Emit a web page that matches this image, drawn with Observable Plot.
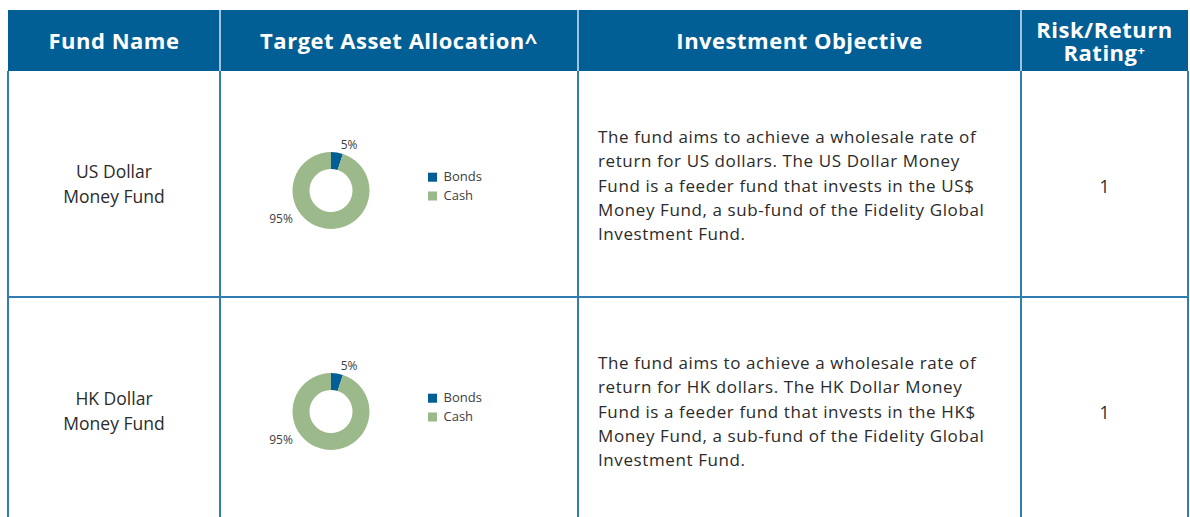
<!DOCTYPE html>
<html>
<head>
<meta charset="utf-8">
<script src="https://cdn.jsdelivr.net/npm/d3@7"></script>
<script src="https://cdn.jsdelivr.net/npm/@observablehq/plot@0.6"></script>
<style>
  html, body { margin: 0; padding: 0; background: #fff; }
  #root { position: relative; width: 1190px; height: 517px; overflow: hidden; font-family: "Open Sans", "Noto Sans", sans-serif; color: #2b2b2b; }
  .hdr { position: absolute; left: 8px; top: 10px; width: 1180px; height: 61px; background: #015f96; }
  .hcell { position: absolute; top: 10px; height: 61px; display: flex; align-items: center; justify-content: center; text-align: center; color: #fff; font-weight: 700; font-size: 22px; line-height: 23px; letter-spacing: 0.5px; }
  .hsep { position: absolute; top: 10px; width: 2px; height: 61px; background: #9fc3dc; }
  .vline { position: absolute; top: 71px; width: 2px; height: 460px; background: #2f7db3; }
  .hline { position: absolute; left: 8px; width: 1181px; height: 2px; background: #2f7db3; }
  .name { position: absolute; display: flex; align-items: center; justify-content: center; text-align: center; font-size: 17.5px; line-height: 25px; }
  .obj { position: absolute; font-size: 17px; line-height: 24.3px; letter-spacing: 0.6px; white-space: nowrap; }
  .rating { position: absolute; display: flex; align-items: center; justify-content: center; font-size: 17.5px; }
  .plotbox { position: absolute; }
</style>
</head>
<body>
<div id="root"></div>
<script>
// ---- data ----
const headers = ["Fund Name", "Target Asset Allocation^", "Investment Objective", "Risk/Return<br>Rating<sup style='font-size:13px;line-height:0;vertical-align:6px'>+</sup>"];
const fundNames = [["US Dollar", "Money Fund"], ["HK Dollar", "Money Fund"]];
const assetClasses = ["Bonds", "Cash"];
const bondsPct = [5, 5];
const cashPct = [95, 95];
const assetColors = ["#015f96", "#9cb98b"];
const objectives = [
  ["The fund aims to achieve a wholesale rate of",
   "return for US dollars. The US Dollar Money",
   "Fund is a feeder fund that invests in the US$",
   "Money Fund, a sub-fund of the Fidelity Global",
   "Investment Fund."],
  ["The fund aims to achieve a wholesale rate of",
   "return for HK dollars. The HK Dollar Money",
   "Fund is a feeder fund that invests in the HK$",
   "Money Fund, a sub-fund of the Fidelity Global",
   "Investment Fund."]
];
const ratings = [1, 1];

// ---- layout ----
const root = document.getElementById("root");
const colX = [8, 220, 578, 1021, 1188];
const headTop = 71, rowH = 226, chartStep = 221;

root.insertAdjacentHTML("beforeend", `<div class="hdr"></div>`);
headers.forEach((h, i) => {
  root.insertAdjacentHTML("beforeend",
    `<div class="hcell" style="left:${colX[i]}px;width:${colX[i+1]-colX[i]}px"><span>${h}</span></div>`);
});
[1, 2, 3].forEach(i => root.insertAdjacentHTML("beforeend", `<div class="hsep" style="left:${colX[i]-1}px"></div>`));
colX.forEach(x => root.insertAdjacentHTML("beforeend", `<div class="vline" style="left:${x - 1}px"></div>`));

fundNames.forEach((lines, r) => {
  const top = headTop + r * rowH;
  if (r > 0) root.insertAdjacentHTML("beforeend", `<div class="hline" style="top:${top - 1}px"></div>`);
  root.insertAdjacentHTML("beforeend",
    `<div class="name" style="left:${colX[0]}px;width:${colX[1]-colX[0]}px;top:${top + 4 + r}px;height:${rowH - 8}px"><span>${lines.join("<br>")}</span></div>`);
  root.insertAdjacentHTML("beforeend",
    `<div class="obj" style="left:598px;top:${top + 54}px">${objectives[r].join("<br>")}</div>`);
  root.insertAdjacentHTML("beforeend",
    `<div class="rating" style="left:${colX[3]}px;width:${colX[4]-colX[3]}px;top:${top + 8}px;height:${rowH - 12}px"><span>${ratings[r]}</span></div>`);

  // donut chart
  const W = colX[2] - colX[1] - 1, H = rowH;
  const cx = 110, cy = 119.5, rOut = 38.5, rIn = 21.5;
  const slices = assetClasses.map((name, k) => ({name, value: [bondsPct[r], cashPct[r]][k]}));
  const pie = d3.pie().sort(null).value(d => d.value)(slices);
  const labels = pie.map(p => {
    const mid = (p.startAngle + p.endAngle) / 2;
    const big = p.data.value > 50;
    const a = big ? mid + 0.78 : mid;     // large slice label sits lower-left, like the original
    const rr = big ? 48 : 46;
    return {text: p.data.value + "%", x: cx + rr * Math.sin(a), y: cy - rr * Math.cos(a), anchor: Math.sin(a) >= 0 ? "start" : "end"};
  });

  const donut = (index, scales) => {
    const g = d3.create("svg:g").attr("transform", `translate(${scales.x(cx)},${scales.y(cy)})`);
    const arc = d3.arc().innerRadius(rIn).outerRadius(rOut);
    g.selectAll("path").data(pie).join("path")
      .attr("d", arc)
      .attr("fill", d => scales.color(d.data.name));
    return g.node();
  };

  const plot = Plot.plot({
    width: W, height: H,
    marginTop: 0, marginRight: 0, marginBottom: 0, marginLeft: 0,
    x: {domain: [0, W], range: [0, W], axis: null},
    y: {domain: [0, H], range: [0, H], axis: null},
    color: {domain: assetClasses, range: assetColors},
    style: {fontFamily: "'Open Sans', 'Noto Sans', sans-serif", background: "transparent", overflow: "visible"},
    marks: [
      donut,
      Plot.text(labels.filter(d => d.anchor === "start"), {x: "x", y: "y", text: "text", textAnchor: "start", dx: 2, fontSize: 12, fill: "#404040"}),
      Plot.text(labels.filter(d => d.anchor === "end"), {x: "x", y: "y", text: "text", textAnchor: "end", dx: 0, fontSize: 12, fill: "#404040"}),
      Plot.dot(assetClasses, {x: () => 211, y: (d, k) => 105.7 + k * 18.8, fill: d => d, symbol: "square", r: 5.1, stroke: null}),
      Plot.text(assetClasses, {x: () => 222, y: (d, k) => 105.7 + k * 18.8, text: d => d, textAnchor: "start", fontSize: 13, fill: "#404040"})
    ]
  });
  const box = document.createElement("div");
  box.className = "plotbox";
  box.style.left = (colX[1] + 1) + "px";
  box.style.top = (headTop + r * chartStep) + "px";
  box.appendChild(plot);
  root.appendChild(box);
});
</script>
</body>
</html>
